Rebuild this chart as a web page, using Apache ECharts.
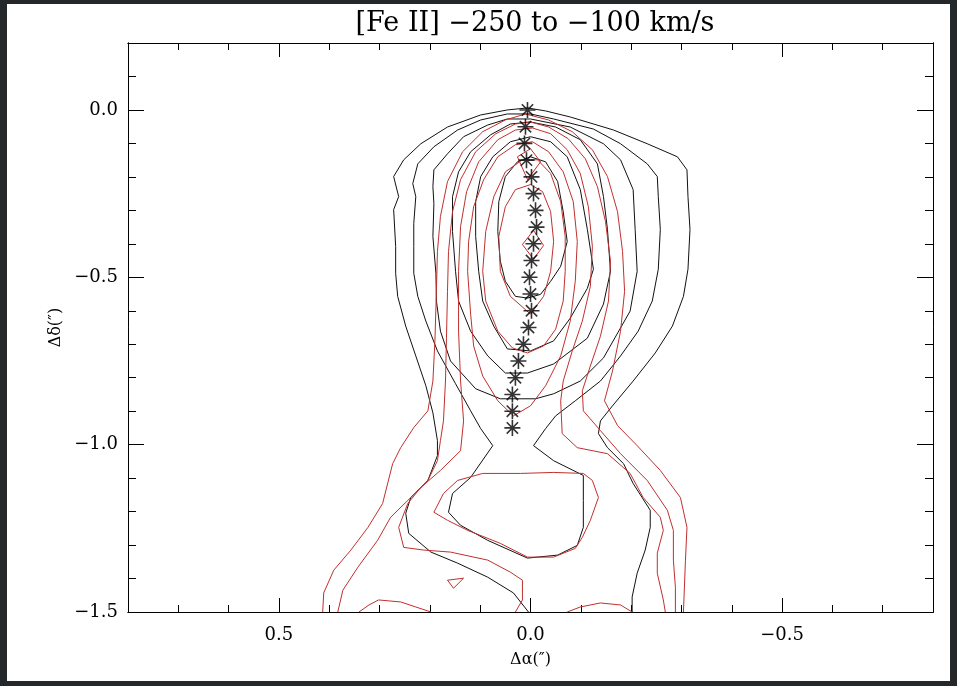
<!DOCTYPE html>
<html>
<head>
<meta charset="utf-8">
<title>[Fe II] -250 to -100 km/s</title>
<script src="https://cdn.jsdelivr.net/npm/echarts@6/dist/echarts.min.js"></script>
<style>
html, body { margin: 0; padding: 0; background: #25282b; }
#main { width: 957px; height: 686px; }
</style>
</head>
<body>
<div id="main"></div>
<script>
// star positions along the jet (arcsec)
var starX = [0.006, 0.010, 0.012, 0.008, -0.002, -0.006, -0.010, -0.012, -0.006, -0.002,
             0.002, 0.000, -0.002, 0.004, 0.014, 0.024, 0.030, 0.036, 0.036, 0.036];
var starY = [0, -0.05, -0.10, -0.15, -0.20, -0.25, -0.30, -0.35, -0.40, -0.45,
             -0.50, -0.55, -0.60, -0.65, -0.70, -0.75, -0.80, -0.85, -0.90, -0.95];

var xTicks = [0.5, 0.0, -0.5];
var yTicks = [0.0, -0.5, -1.0, -1.5];

// black contours, outer to inner
var black1 = [[0.004,-1.5],[0.034,-1.443],[0.085,-1.396],[0.145,-1.354],[0.198,-1.321],[0.242,-1.265],
  [0.248,-1.205],[0.238,-1.158],[0.204,-1.107],[0.185,-1.033],[0.185,-0.988],[0.194,-0.905],[0.208,-0.824],
  [0.228,-0.735],[0.248,-0.646],[0.264,-0.557],[0.268,-0.488],[0.268,-0.408],[0.272,-0.298],[0.262,-0.259],
  [0.272,-0.199],[0.252,-0.149],[0.218,-0.101],[0.165,-0.051],[0.099,-0.015],[0.046,0],[0.006,0.006],
  [-0.030,-0.003],[-0.079,-0.021],[-0.165,-0.060],[-0.232,-0.101],[-0.292,-0.140],[-0.311,-0.179],
  [-0.313,-0.259],[-0.317,-0.357],[-0.313,-0.476],[-0.304,-0.557],[-0.282,-0.646],[-0.248,-0.726],
  [-0.204,-0.810],[-0.163,-0.884],[-0.139,-0.929],[-0.135,-0.967],[-0.153,-1.009],[-0.185,-1.057],
  [-0.204,-1.116],[-0.238,-1.196],[-0.238,-1.247],[-0.228,-1.315],[-0.212,-1.384],[-0.202,-1.455],[-0.202,-1.5]];
var black2 = [[0.075,-1.003],[0.099,-0.952],[0.119,-0.899],[0.149,-0.818],[0.185,-0.720],[0.208,-0.631],
  [0.224,-0.557],[0.232,-0.488],[0.232,-0.408],[0.232,-0.339],[0.228,-0.259],[0.234,-0.220],[0.224,-0.161],
  [0.192,-0.110],[0.145,-0.060],[0.099,-0.030],[0.046,-0.012],[0,-0.012],[-0.046,-0.027],[-0.125,-0.057],
  [-0.179,-0.101],[-0.232,-0.161],[-0.252,-0.199],[-0.254,-0.259],[-0.258,-0.357],[-0.254,-0.476],
  [-0.242,-0.571],[-0.214,-0.661],[-0.179,-0.735],[-0.139,-0.810],[-0.089,-0.869],[-0.050,-0.914],
  [-0.030,-0.952],[-0.006,-1.003],[-0.046,-1.048],[-0.105,-1.092],[-0.105,-1.167],[-0.105,-1.247],
  [-0.093,-1.301],[-0.054,-1.330],[0.006,-1.339],[0.085,-1.286],[0.139,-1.241],[0.163,-1.202],
  [0.155,-1.146],[0.119,-1.098],[0.075,-1.003]];
var black3 = [[0.188,-0.488],[0.194,-0.378],[0.192,-0.280],[0.194,-0.229],[0.192,-0.179],[0.165,-0.131],
  [0.133,-0.080],[0.085,-0.045],[0.046,-0.027],[0,-0.027],[-0.079,-0.051],[-0.145,-0.101],[-0.179,-0.149],
  [-0.204,-0.238],[-0.208,-0.357],[-0.212,-0.482],[-0.198,-0.601],[-0.145,-0.741],[-0.099,-0.810],
  [-0.046,-0.848],[-0.010,-0.863],[0.060,-0.863],[0.109,-0.833],[0.159,-0.750],[0.179,-0.661],
  [0.187,-0.571],[0.188,-0.488]];
var black4 = [[0.149,-0.482],[0.155,-0.363],[0.155,-0.259],[0.143,-0.185],[0.119,-0.125],[0.079,-0.074],
  [0.040,-0.042],[0,-0.036],[-0.050,-0.051],[-0.099,-0.089],[-0.133,-0.161],[-0.145,-0.259],[-0.153,-0.357],
  [-0.159,-0.482],[-0.145,-0.580],[-0.113,-0.682],[-0.046,-0.759],[0.006,-0.786],[0.050,-0.786],
  [0.085,-0.735],[0.119,-0.661],[0.143,-0.571],[0.149,-0.482]];
var black5 = [[0.103,-0.482],[0.109,-0.378],[0.109,-0.274],[0.099,-0.199],[0.075,-0.140],[0.040,-0.095],
  [0,-0.080],[-0.040,-0.095],[-0.073,-0.140],[-0.099,-0.238],[-0.113,-0.357],[-0.125,-0.476],[-0.113,-0.533],
  [-0.079,-0.622],[-0.046,-0.690],[0,-0.720],[0.046,-0.714],[0.073,-0.646],[0.095,-0.571],[0.103,-0.482]];
var black6 = [[0.060,-0.452],[0.065,-0.363],[0.063,-0.274],[0.050,-0.199],[0.026,-0.155],[0,-0.140],
  [-0.030,-0.155],[-0.054,-0.214],[-0.065,-0.304],[-0.073,-0.393],[-0.060,-0.467],[-0.040,-0.512],
  [-0.020,-0.551],[0.006,-0.562],[0.030,-0.557],[0.050,-0.512],[0.060,-0.452]];

// red contours, outer to inner
var red1 = [[0.413,-1.5],[0.411,-1.443],[0.391,-1.375],[0.357,-1.315],[0.323,-1.247],[0.294,-1.176],
  [0.274,-1.057],[0.258,-1.009],[0.232,-0.949],[0.204,-0.899],[0.194,-0.810],[0.190,-0.690],[0.187,-0.542],
  [0.185,-0.423],[0.179,-0.318],[0.165,-0.214],[0.135,-0.125],[0.095,-0.065],[0.050,-0.030],[0.010,-0.012],
  [-0.036,-0.030],[-0.083,-0.065],[-0.123,-0.119],[-0.153,-0.199],[-0.173,-0.304],[-0.183,-0.423],
  [-0.187,-0.542],[-0.179,-0.661],[-0.163,-0.780],[-0.147,-0.869],[-0.173,-0.943],[-0.212,-1.003],
  [-0.258,-1.077],[-0.298,-1.158],[-0.311,-1.247],[-0.308,-1.345],[-0.304,-1.5]];
var red2 = [[0.383,-1.5],[0.373,-1.435],[0.343,-1.366],[0.304,-1.286],[0.278,-1.217],[0.238,-1.158],
  [0.204,-1.107],[0.185,-1.048],[0.179,-0.988],[0.173,-0.929],[0.169,-0.810],[0.167,-0.682],[0.165,-0.542],
  [0.163,-0.423],[0.155,-0.304],[0.139,-0.208],[0.109,-0.125],[0.069,-0.071],[0.030,-0.042],[0,-0.036],
  [-0.036,-0.051],[-0.075,-0.086],[-0.109,-0.146],[-0.133,-0.229],[-0.149,-0.333],[-0.159,-0.452],
  [-0.155,-0.571],[-0.139,-0.676],[-0.119,-0.765],[-0.103,-0.839],[-0.105,-0.899],[-0.139,-0.958],
  [-0.179,-1.027],[-0.232,-1.107],[-0.272,-1.196],[-0.284,-1.256],[-0.284,-1.345],[-0.288,-1.426],[-0.288,-1.5]];
var red3 = [[0.030,-1.5],[0.016,-1.464],[0.016,-1.405],[0.040,-1.381],[0.085,-1.345],[0.159,-1.321],
  [0.212,-1.315],[0.252,-1.307],[0.262,-1.247],[0.244,-1.176],[0.218,-1.128],[0.179,-1.077],[0.139,-1.018],
  [0.133,-0.929],[0.139,-0.810],[0.143,-0.661],[0.143,-0.482],[0.139,-0.348],[0.127,-0.244],[0.103,-0.155],
  [0.065,-0.089],[0.030,-0.060],[-0.004,-0.054],[-0.040,-0.071],[-0.073,-0.119],[-0.099,-0.190],
  [-0.115,-0.289],[-0.123,-0.408],[-0.119,-0.527],[-0.103,-0.631],[-0.083,-0.720],[-0.065,-0.810],
  [-0.060,-0.869],[-0.063,-0.967],[-0.093,-1.009],[-0.153,-1.027],[-0.198,-1.086],[-0.224,-1.158],
  [-0.258,-1.217],[-0.264,-1.256],[-0.252,-1.324],[-0.252,-1.384],[-0.264,-1.464],[-0.268,-1.5]];
var red4 = [[0.125,-0.482],[0.119,-0.610],[0.113,-0.705],[0.095,-0.795],[0.065,-0.869],[0.034,-0.914],
  [0,-0.884],[-0.030,-0.824],[-0.060,-0.735],[-0.079,-0.631],[-0.089,-0.512],[-0.093,-0.393],[-0.085,-0.274],
  [-0.065,-0.185],[-0.036,-0.125],[-0.004,-0.095],[0.030,-0.104],[0.065,-0.140],[0.093,-0.208],
  [0.113,-0.289],[0.123,-0.393],[0.125,-0.482]];
var red5 = [[0.095,-0.482],[0.089,-0.571],[0.065,-0.661],[0.036,-0.711],[0.006,-0.726],[-0.026,-0.705],
  [-0.050,-0.655],[-0.065,-0.571],[-0.069,-0.482],[-0.069,-0.378],[-0.060,-0.274],[-0.040,-0.190],
  [-0.014,-0.149],[0.016,-0.149],[0.050,-0.185],[0.073,-0.259],[0.089,-0.363],[0.095,-0.482]];
var red6 = [[0.060,-0.482],[0.040,-0.557],[0,-0.610],[-0.026,-0.557],[-0.040,-0.482],[-0.046,-0.393],
  [-0.040,-0.304],[-0.024,-0.244],[0,-0.223],[0.030,-0.238],[0.050,-0.289],[0.063,-0.378],[0.060,-0.482]];
var redDiamond = [[0.016,-0.402],[-0.006,-0.360],[-0.026,-0.405],[-0.006,-0.446],[0.016,-0.402]];
var redTop = [[0.026,-0.140],[0.006,-0.208],[-0.020,-0.155],[0,-0.116],[0.026,-0.140]];
var redKnot = [[0.192,-1.202],[0.173,-1.146],[0.145,-1.107],[0.095,-1.086],[0.020,-1.086],[-0.046,-1.083],
  [-0.105,-1.086],[-0.123,-1.107],[-0.135,-1.158],[-0.119,-1.226],[-0.103,-1.277],[-0.089,-1.310],
  [-0.046,-1.336],[0.006,-1.336],[0.060,-1.295],[0.125,-1.256],[0.165,-1.226],[0.192,-1.202]];
var redArcL = [[0.341,-1.5],[0.321,-1.479],[0.302,-1.464],[0.258,-1.470],[0.228,-1.485],[0.198,-1.5]];
var redArcR = [[-0.073,-1.5],[-0.099,-1.485],[-0.139,-1.473],[-0.179,-1.479],[-0.202,-1.5]];
var redTri = [[0.165,-1.405],[0.133,-1.399],[0.153,-1.429],[0.165,-1.405]];

var blackList = [black1, black2, black3, black4, black5, black6];
var redList = [red1, red2, red3, red4, red5, red6, redDiamond, redTop, redKnot, redArcL, redArcR, redTri];

var serif = 'DejaVu Serif';
// asterisk made of four thin bars
var starPath = 'path://M-1,-10L1,-10L1,10L-1,10Z M-10,-1L10,-1L10,1L-10,1Z ' +
    'M-6.36,-7.78L7.78,6.36L6.36,7.78L-7.78,-6.36Z M7.78,-6.36L-6.36,7.78L-7.78,6.36L6.36,-7.78Z';

function fmt(v) {
    return v.toFixed(1).replace('-', '\u2212');
}

function contour(pts, color, width) {
    return {
        type: 'line', data: pts, symbol: 'none', showSymbol: false,
        xAxisIndex: 0, yAxisIndex: 0, silent: true, animation: false,
        lineStyle: {color: color, width: width}
    };
}

function xAxis(pos, minor) {
    var ax = {
        type: 'value', position: pos, min: -0.8, max: 0.8, inverse: true,
        axisLine: {show: true, onZero: false, lineStyle: {color: '#000', width: 1}},
        splitLine: {show: false},
        axisLabel: {show: false}
    };
    if (minor) {
        ax.interval = 0.1;
        ax.axisTick = {inside: true, length: 7, lineStyle: {color: '#000'}};
    } else {
        ax.axisTick = {inside: true, length: 14, customValues: xTicks, lineStyle: {color: '#000'}};
        if (pos == 'bottom') {
            ax.axisLabel = {show: true, customValues: xTicks, formatter: fmt, margin: 14,
                fontFamily: serif, fontSize: 18, color: '#000'};
            ax.name = '\u0394\u03b1(\u2033)';
            ax.nameLocation = 'middle';
            ax.nameGap = 40;
            ax.nameTextStyle = {fontFamily: serif, fontSize: 16, color: '#000'};
        }
    }
    return ax;
}

function yAxis(pos, minor) {
    var ax = {
        type: 'value', position: pos, min: -1.5, max: 0.2,
        axisLine: {show: true, onZero: false, lineStyle: {color: '#000', width: 1}},
        splitLine: {show: false},
        axisLabel: {show: false}
    };
    if (minor) {
        ax.interval = 0.1;
        ax.axisTick = {inside: true, length: 8, lineStyle: {color: '#000'}};
    } else {
        ax.axisTick = {inside: true, length: 16, customValues: yTicks, lineStyle: {color: '#000'}};
        if (pos == 'left') {
            ax.axisLabel = {show: true, customValues: yTicks, formatter: fmt, margin: 10,
                fontFamily: serif, fontSize: 18, color: '#000'};
            ax.name = '\u0394\u03b4(\u2033)';
            ax.nameLocation = 'middle';
            ax.nameGap = 64;
            ax.nameTextStyle = {fontFamily: serif, fontSize: 16, color: '#000'};
        }
    }
    return ax;
}

var series = [];
blackList.forEach(function (c) { series.push(contour(c, '#111111', 1)); });
redList.forEach(function (c) { series.push(contour(c, '#c0302e', 1)); });

var stars = [];
for (var i = 0; i < starX.length; i++) stars.push([starX[i], starY[i]]);
series.push({
    type: 'scatter', data: stars, symbol: starPath, symbolSize: 16,
    xAxisIndex: 0, yAxisIndex: 0, silent: true, animation: false,
    itemStyle: {color: '#000'}, z: 5
});

var myChart = echarts.init(document.getElementById('main'));
var option = {
    backgroundColor: '#25282b',
    animation: false,
    graphic: [{
        type: 'rect', z: -100, silent: true,
        shape: {x: 7, y: 4, width: 943, height: 677},
        style: {fill: '#ffffff'}
    }],
    title: {
        text: '[Fe II] \u2212250 to \u2212100 km/s',
        left: 530, top: 5, textAlign: 'center',
        textStyle: {fontFamily: serif, fontSize: 27, fontWeight: 'normal', color: '#000'}
    },
    grid: {left: 128, right: 24, top: 43, bottom: 74, containLabel: false},
    xAxis: [xAxis('bottom', false), xAxis('bottom', true), xAxis('top', false), xAxis('top', true)],
    yAxis: [yAxis('left', false), yAxis('left', true), yAxis('right', false), yAxis('right', true)],
    series: series
};
myChart.setOption(option);
</script>
</body>
</html>
